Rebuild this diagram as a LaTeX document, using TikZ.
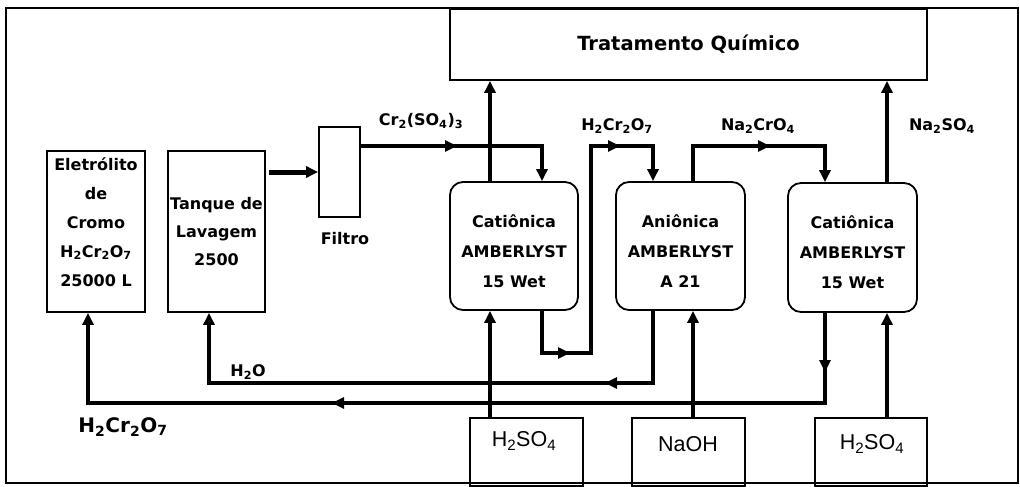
\documentclass[tikz,border=0pt]{standalone}
\usepackage{fontspec}
\setmainfont{DejaVu Sans}
\newfontfamily\arialf{Liberation Sans}
\usetikzlibrary{arrows.meta,calc}
\tikzset{
  box/.style={draw, line width=1.8pt, inner sep=0pt},
  rbox/.style={box, rounded corners=13pt},
  flow/.style={line width=3.8pt},
  tip/.style={-{Triangle[length=12pt,width=11pt]}},
  txt/.style={font=\fontsize{16}{29}\selectfont\bfseries, align=center, inner sep=0pt},
  lbl/.style={font=\fontsize{16}{18}\selectfont\bfseries, inner sep=0pt},
  feed/.style={font=\arialf\fontsize{21.5}{24}\selectfont, inner sep=0pt},
}
\begin{document}
\begin{tikzpicture}[x=1pt,y=-1pt]
\useasboundingbox (0,0) rectangle (1020,487);
% frame
\draw[line width=1.3pt] (6,8) rectangle (1018,483);
% boxes
\node[box, minimum width=477pt, minimum height=71pt, font=\fontsize{19.5}{22}\selectfont\bfseries] (trat) at (688.5,44.5) {Tratamento Químico};
\node[box, minimum width=98pt, minimum height=161pt] (eletro) at (96,231.5) {};
\node[txt] (eletrot) at (96,222) {Eletrólito\\de\\Cromo\\H\textsubscript{2}Cr\textsubscript{2}O\textsubscript{7}\\25000 L};
\node[box, minimum width=97pt, minimum height=161pt, txt, font=\fontsize{16}{28}\selectfont\bfseries] (tanque) at (216.5,231.5) {Tanque de\\Lavagem\\2500};
\node[box, minimum width=41pt, minimum height=90pt] (filtro) at (339.5,172) {};
\node[lbl] (filtrot) at (345,239) {Filtro};
\node[rbox, minimum width=128pt, minimum height=128pt] (cat1) at (514,246) {};
\node[txt, font=\fontsize{16}{30}\selectfont\bfseries] (cat1t) at (514,251) {Catiônica\\AMBERLYST\\15 Wet};
\node[rbox, minimum width=129pt, minimum height=128pt] (anion) at (680.5,246) {};
\node[txt, font=\fontsize{16}{30}\selectfont\bfseries] (aniont) at (680.5,251) {Aniônica\\AMBERLYST\\A 21};
\node[rbox, minimum width=129pt, minimum height=129pt] (cat2) at (852.5,247.5) {};
\node[txt, font=\fontsize{16}{30}\selectfont\bfseries] (cat2t) at (852.5,252) {Catiônica\\AMBERLYST\\15 Wet};
\node[box, minimum width=113pt, minimum height=68pt] (h1) at (526.5,452) {};
\node[feed] (h1t) at (524,441) {H\textsubscript{2}SO\textsubscript{4}};
\node[box, minimum width=113pt, minimum height=68pt] (naoh) at (688.5,452) {};
\node[feed] (naoht) at (688,444) {NaOH};
\node[box, minimum width=112pt, minimum height=68pt] (h2) at (871,452) {};
\node[feed] (h2t) at (872,444) {H\textsubscript{2}SO\textsubscript{4}};
% labels
\node[lbl] (l1) at (421,121) {Cr\textsubscript{2}(SO\textsubscript{4})\textsubscript{3}};
\node[lbl] (l2) at (617,126) {H\textsubscript{2}Cr\textsubscript{2}O\textsubscript{7}};
\node[lbl] (l3) at (758,126) {Na\textsubscript{2}CrO\textsubscript{4}};
\node[lbl] (l4) at (942,126) {Na\textsubscript{2}SO\textsubscript{4}};
\node[lbl] (l5) at (248,372) {H\textsubscript{2}O};
\node[lbl, font=\fontsize{20}{22}\selectfont\bfseries] (l6) at (123,427) {H\textsubscript{2}Cr\textsubscript{2}O\textsubscript{7}};
% connectors
\coordinate (tf) at (269,172);
\draw[line width=5pt, tip] (tf) -- (tf -| filtro.west);
\draw[flow, tip] (filtro.east |- 0,146) -| (cat1.north -| 542,0);
\draw[flow, tip] (cat1.north -| 490,0) -- (trat.south -| 490,0);
\draw[flow, tip] (cat1.south -| 542,0) -- (542,353) -- (591,353) -- (591,146) -- (653,146) -- (anion.north -| 653,0);
\draw[flow, tip] (anion.north -| 693,0) -- (693,146) -- (825,146) -- (cat2.north -| 825,0);
\draw[flow, tip] (cat2.north -| 887,0) -- (trat.south -| 887,0);
\draw[flow, tip] (anion.south -| 653,0) -- (653,383) -- (209,383) -- (tanque.south -| 209,0);
\draw[flow, tip] (cat2.south -| 825,0) -- (825,403) -- (88,403) -- (eletro.south -| 88,0);
\draw[flow, tip] (h1.north -| 490,0) -- (cat1.south -| 490,0);
\draw[flow, tip] (naoh.north -| 693,0) -- (anion.south -| 693,0);
\draw[flow, tip] (h2.north -| 887,0) -- (cat2.south -| 887,0);
% mid-line arrowheads
\draw[flow, tip] (440,146) -- (457,146);
\draw[flow, tip] (553,353) -- (570,353);
\draw[flow, tip] (603,146) -- (620,146);
\draw[flow, tip] (753,146) -- (770,146);
\draw[flow, tip] (622,383) -- (605,383);
\draw[flow, tip] (825,355) -- (825,372);
\draw[flow, tip] (349,403) -- (332,403);
\end{tikzpicture}
\end{document}
